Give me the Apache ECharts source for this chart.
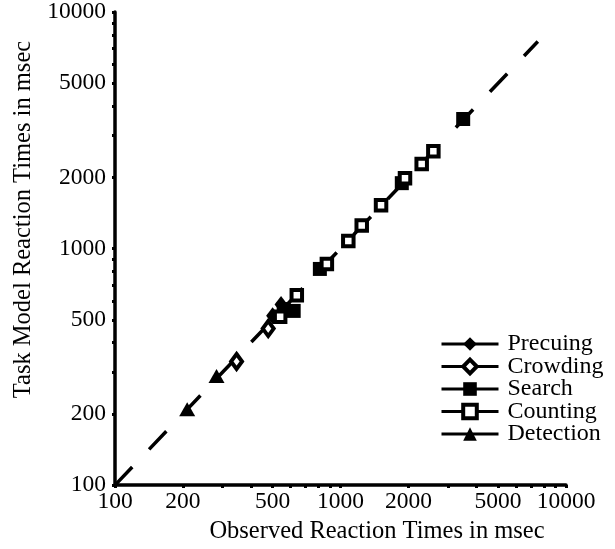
<!DOCTYPE html>
<html>
<head>
<meta charset="utf-8">
<style>
  html, body { margin: 0; padding: 0; background: #fff; }
  #chart { width: 615px; height: 549px; }
</style>
<script src="https://cdn.jsdelivr.net/npm/echarts@6/dist/echarts.min.js"></script>
</head>
<body>
<div id="chart"></div>
<script>
// data: [observed, task model] reaction times in msec
var seriesNames = ['Precuing', 'Crowding', 'Search', 'Counting', 'Detection'];
var precuing = [[500, 520], [545, 580]];
var crowding = [[346, 333], [478, 459]];
var search = [[560, 555], [620, 545], [810, 820], [1870, 1890], [3500, 3530]];
var counting = [[540, 515], [640, 634], [870, 860], [1083, 1077], [1242, 1252],
                [1513, 1523], [1932, 1982], [2291, 2275], [2581, 2579]];
var detection = [[209, 209], [282, 289]];
var diagonal = [[100, 100], [7500, 7500]];

var tickValues = [100, 200, 300, 400, 500, 600, 700, 800, 900,
                  1000, 2000, 3000, 4000, 5000, 6000, 7000, 8000, 9000, 10000];
var labelValues = [100, 200, 500, 1000, 2000, 5000, 10000];

var font = 'Liberation Serif';
var ink = '#000';

function axis(name, gap, labelMargin, namePad) {
    return {
        type: 'log',
        logBase: 10,
        min: 100,
        max: 10000,
        name: name,
        nameLocation: 'middle',
        nameGap: gap,
        nameTextStyle: { fontFamily: font, fontSize: 24.5, color: ink, padding: namePad },
        axisLine: { lineStyle: { color: ink, width: 3.5 } },
        axisTick: { customValues: tickValues, length: 3, lineStyle: { color: ink, width: 3 } },
        axisLabel: {
            customValues: labelValues,
            margin: labelMargin,
            fontFamily: font,
            fontSize: 23.5,
            color: ink,
            formatter: function (v) { return String(Math.round(v)); }
        },
        splitLine: { show: false },
        minorTick: { show: false }
    };
}

// 基本的系列样式：只画标记，不画连线
function marks(name, data, symbol, size, open) {
    return {
        name: name,
        type: 'line',
        data: data,
        symbol: symbol,
        symbolSize: size,
        showAllSymbol: true,
        lineStyle: { width: 0 },
        itemStyle: open
            ? { color: '#fff', borderColor: ink, borderWidth: 4, opacity: 1 }
            : { color: ink, borderWidth: 0, opacity: 1 },
        z: 3
    };
}

var myChart = echarts.init(document.getElementById('chart'));

var option = {
    animation: false,
    grid: { left: 115, right: 49, top: 12, bottom: 59 },
    xAxis: axis('Observed Reaction Times in msec', 33, 5, [0, 0, 0, 73]),
    yAxis: axis('Task Model Reaction Times in msec', 60, 9, [0, 0, 0, 58]),
    legend: {
        data: seriesNames,
        orient: 'vertical',
        left: 435,
        top: 327,
        itemWidth: 57,
        itemHeight: 17,
        itemGap: -1.5,
        selectedMode: false,
        textStyle: { fontFamily: font, fontSize: 24, color: ink, lineHeight: 22.5, padding: [0, 0, 0, 4] },
        lineStyle: { width: 3, color: ink, opacity: 1, type: 'solid' },
        itemStyle: { borderWidth: 'inherit' }
    },
    series: [
        {
            type: 'line',
            data: diagonal,
            symbol: 'none',
            silent: true,
            lineStyle: { color: ink, width: 3.5, type: [25, 24.4] },
            z: 1
        },
        marks('Search', search, 'rect', 14, false),
        marks('Precuing', precuing, 'diamond', [13, 17], false),
        marks('Crowding', crowding, 'diamond', [11, 15], true),
        marks('Counting', counting, 'rect', 10.5, true),
        marks('Detection', detection, 'triangle', [16, 14], false)
    ]
};

myChart.setOption(option);
</script>
</body>
</html>
